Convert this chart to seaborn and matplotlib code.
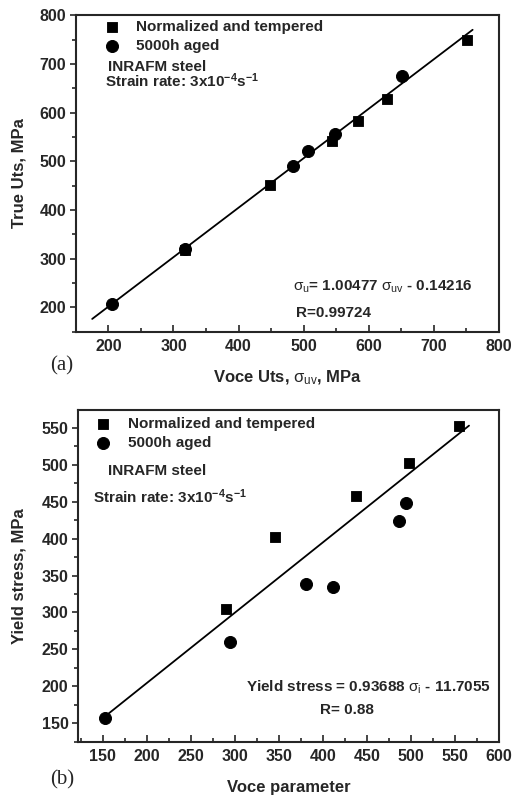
import seaborn as sns
import pandas as pd
import numpy as np
import matplotlib.pyplot as plt
from matplotlib.ticker import MultipleLocator

# (a) true UTS vs Voce UTS
uts_nt_x = [318, 448, 544, 584, 628, 752]
uts_nt_y = [318, 452, 542, 582, 627, 748]
uts_aged_x = [206, 318, 484, 507, 549, 651]
uts_aged_y = [207, 319, 490, 520, 555, 675]
uts_fit_x = [175, 760]
uts_fit_y = [176, 770]

# (b) yield stress vs Voce parameter
ys_nt_x = [290, 345, 438, 498, 555]
ys_nt_y = [305, 402, 458, 502, 553]
ys_aged_x = [152, 294, 381, 411, 487, 494]
ys_aged_y = [157, 260, 338, 334, 424, 448]
ys_fit_x = [150, 566]
ys_fit_y = [157, 553]

sns.set_style("ticks")
plt.rcParams['font.family'] = ['Liberation Sans', 'DejaVu Sans']
plt.rcParams['font.weight'] = 'bold'
plt.rcParams['mathtext.fontset'] = 'custom'
plt.rcParams['mathtext.rm'] = 'Liberation Sans:weight=normal:style=normal'
plt.rcParams['mathtext.it'] = 'Liberation Sans:weight=normal:style=normal'
plt.rcParams['mathtext.bf'] = 'Liberation Sans:weight=bold'
plt.rcParams['axes.linewidth'] = 1.5

fig = plt.figure(figsize=(5.13, 7.99), dpi=100)
ax1 = fig.add_axes([0.148, 0.585, 0.824, 0.396])
ax2 = fig.add_axes([0.1526, 0.0717, 0.820, 0.415])


def draw(ax, nt_x, nt_y, ag_x, ag_y, fx, fy):
    sns.scatterplot(x=nt_x, y=nt_y, marker='s', s=60, color='black',
                    edgecolor='black', label='Normalized and tempered', ax=ax)
    sns.scatterplot(x=ag_x, y=ag_y, marker='o', s=75, color='black',
                    edgecolor='black', label='5000h aged', ax=ax)
    sns.lineplot(x=fx, y=fy, color='black', lw=1.3, ax=ax)
    for s in ax.spines.values():
        s.set_visible(True)
        s.set_linewidth(1.5)
    ax.tick_params(axis='x', which='major', direction='in', length=5, width=1.2,
                   pad=5, labelsize=11.5)
    ax.tick_params(axis='x', which='minor', direction='in', length=3, width=1.2)
    ax.tick_params(axis='y', which='major', direction='out', length=4, width=1.2,
                   pad=3, labelsize=11.5)
    ax.tick_params(axis='y', which='minor', direction='out', length=3, width=1.2)
    for lab in ax.get_xticklabels() + ax.get_yticklabels():
        lab.set_fontweight('bold')


# panel (a)
draw(ax1, uts_nt_x, uts_nt_y, uts_aged_x, uts_aged_y, uts_fit_x, uts_fit_y)
ax1.set_xlim(150, 800)
ax1.set_ylim(150, 800)
ax1.xaxis.set_major_locator(MultipleLocator(100))
ax1.xaxis.set_minor_locator(MultipleLocator(50))
ax1.yaxis.set_major_locator(MultipleLocator(100))
ax1.yaxis.set_minor_locator(MultipleLocator(50))
ax1.set_xticks([200, 300, 400, 500, 600, 700, 800])
ax1.set_xlabel(r'Voce Uts, $\sigma_{uv}$, MPa', fontsize=12, fontweight='bold')
ax1.set_ylabel('True Uts, MPa', fontsize=12, fontweight='bold')
ax1.xaxis.set_label_coords(0.5, -0.118)
ax1.yaxis.set_label_coords(-0.118, 0.5)
ax1.legend(loc='upper left', bbox_to_anchor=(0.067, 0.984), frameon=False,
           borderaxespad=0, borderpad=0, handlelength=1.0, handletextpad=1.07,
           labelspacing=0.3, prop={'size': 11, 'weight': 'bold'})
ax1.text(0.0757, 0.836, 'INRAFM steel', transform=ax1.transAxes,
         fontsize=11, fontweight='bold', va='center')
ax1.text(0.0686, 0.793, r'Strain rate: 3x10$^{\mathbf{-4}}$s$^{\mathbf{-1}}$',
         transform=ax1.transAxes, fontsize=11, fontweight='bold', va='center')
ax1.text(0.513, 0.141, r'$\sigma_{u}$= 1.00477 $\sigma_{uv}$ - 0.14216',
         transform=ax1.transAxes, fontsize=11, fontweight='bold', va='center')
ax1.text(0.520, 0.059, 'R=0.99724', transform=ax1.transAxes,
         fontsize=11, fontweight='bold', va='center')

# panel (b)
draw(ax2, ys_nt_x, ys_nt_y, ys_aged_x, ys_aged_y, ys_fit_x, ys_fit_y)
ax2.set_xlim(122, 600)
ax2.set_ylim(125, 574)
ax2.set_xticks([150, 200, 250, 300, 350, 400, 450, 500, 550, 600])
ax2.xaxis.set_minor_locator(MultipleLocator(25))
ax2.set_yticks([150, 200, 250, 300, 350, 400, 450, 500, 550])
ax2.yaxis.set_minor_locator(MultipleLocator(25))
ax2.set_xlabel('Voce parameter', fontsize=12, fontweight='bold')
ax2.set_ylabel('Yield stress, MPa', fontsize=12, fontweight='bold')
ax2.xaxis.set_label_coords(0.5, -0.115)
ax2.yaxis.set_label_coords(-0.124, 0.5)
ax2.legend(loc='upper left', bbox_to_anchor=(0.040, 0.979), frameon=False,
           borderaxespad=0, borderpad=0, handlelength=1.0, handletextpad=1.15,
           labelspacing=0.3, prop={'size': 11, 'weight': 'bold'})
ax2.text(0.0706, 0.817, 'INRAFM steel', transform=ax2.transAxes,
         fontsize=11, fontweight='bold', va='center')
ax2.text(0.035, 0.739, r'Strain rate: 3x10$^{\mathbf{-4}}$s$^{\mathbf{-1}}$',
         transform=ax2.transAxes, fontsize=11, fontweight='bold', va='center')
ax2.text(0.689, 0.164, r'Yield stress = 0.93688 $\sigma_{i}$ - 11.7055',
         transform=ax2.transAxes, fontsize=11, fontweight='bold',
         va='center', ha='center')
ax2.text(0.638, 0.0955, 'R= 0.88', transform=ax2.transAxes,
         fontsize=11, fontweight='bold', va='center', ha='center')

fig.text(62 / 513, 1 - 366 / 799, '(a)', family='Liberation Serif',
         fontsize=15, fontweight='normal', ha='center', va='center')
fig.text(62 / 513, 1 - 780 / 799, '(b)', family='Liberation Serif',
         fontsize=15, fontweight='normal', ha='center', va='center')

fig.savefig('out.png', dpi=100)
